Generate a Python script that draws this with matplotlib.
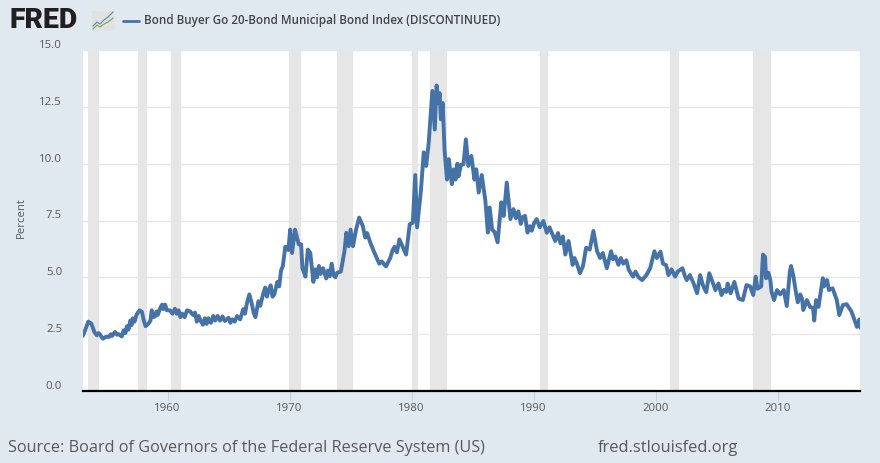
import matplotlib
matplotlib.use("Agg")
import matplotlib.pyplot as plt
from matplotlib.lines import Line2D
from matplotlib.patches import FancyBboxPatch
from matplotlib.transforms import ScaledTranslation

plt.rcParams['font.family'] = ['Open Sans', 'DejaVu Sans']

title = "Bond Buyer Go 20-Bond Municipal Bond Index (DISCONTINUED)"
source = "Source: Board of Governors of the Federal Reserve System (US)"
site = "fred.stlouisfed.org"
ylabel = "Percent"
x_ticks = [1960, 1970, 1980, 1990, 2000, 2010]
y_ticks = [0.0, 2.5, 5.0, 7.5, 10.0, 12.5, 15.0]
recession_start = [1953.5, 1957.6, 1960.25, 1969.95, 1973.9, 1980.0, 1981.5, 1990.55, 2001.2, 2007.95]
recession_end = [1954.4, 1958.3, 1961.1, 1970.9, 1975.2, 1980.5, 1982.9, 1991.2, 2001.9, 2009.45]

years_1950s = [1953.07, 1953.25, 1953.5, 1953.75, 1954, 1954.2, 1954.35, 1954.5, 1954.7, 1954.95, 1955.2, 1955.35, 1955.45, 1955.7, 1955.85, 1956, 1956.25, 1956.4, 1956.55, 1956.67, 1956.8, 1956.95, 1957.05, 1957.15, 1957.3, 1957.45, 1957.7, 1957.9, 1958.05, 1958.2, 1958.45, 1958.6, 1958.7, 1958.85, 1959, 1959.1, 1959.2, 1959.4, 1959.55, 1959.65, 1959.8, 1959.95]
values_1950s = [2.45, 2.68, 3.05, 2.97, 2.6, 2.45, 2.55, 2.45, 2.3, 2.38, 2.38, 2.5, 2.42, 2.6, 2.48, 2.5, 2.4, 2.67, 2.55, 2.85, 2.7, 3.1, 2.9, 3.2, 3.05, 3.35, 3.55, 3.48, 3.1, 2.85, 2.97, 3.1, 3.55, 3.25, 3.3, 3.5, 3.35, 3.65, 3.8, 3.6, 3.8, 3.55]

years_1960s = [1960.2, 1960.4, 1960.6, 1960.75, 1960.9, 1961.05, 1961.2, 1961.4, 1961.6, 1961.85, 1962.1, 1962.25, 1962.4, 1962.55, 1962.7, 1962.9, 1963.05, 1963.2, 1963.35, 1963.55, 1963.75, 1963.9, 1964.1, 1964.3, 1964.5, 1964.7, 1965, 1965.15, 1965.3, 1965.5, 1965.7, 1965.95, 1966.2, 1966.35, 1966.5, 1966.7, 1966.9, 1967.05, 1967.2, 1967.45, 1967.6, 1967.85, 1968, 1968.15, 1968.3, 1968.45, 1968.6, 1968.75, 1969, 1969.15, 1969.3, 1969.45, 1969.65, 1969.9]
values_1960s = [3.55, 3.4, 3.62, 3.4, 3.55, 3.25, 3.4, 3.25, 3.55, 3.5, 3.34, 3.45, 3.05, 3.3, 3.1, 2.92, 3.2, 2.95, 3.2, 3.0, 3.3, 3.1, 3.3, 3.1, 3.28, 3.08, 3.22, 3.0, 3.15, 3.05, 3.3, 3.15, 3.6, 3.4, 3.85, 4.25, 3.85, 3.45, 3.25, 3.95, 3.75, 4.3, 4.55, 4.15, 4.45, 4.65, 4.15, 4.25, 4.8, 4.6, 5.3, 5.5, 6.35, 6.2]

years_1970s = [1970.05, 1970.2, 1970.45, 1970.75, 1970.95, 1971.05, 1971.3, 1971.5, 1971.7, 1971.95, 1972.1, 1972.25, 1972.4, 1972.55, 1972.75, 1973, 1973.15, 1973.3, 1973.45, 1973.6, 1973.75, 1973.9, 1974.2, 1974.5, 1974.65, 1974.85, 1975, 1975.2, 1975.45, 1975.7, 1976, 1976.2, 1976.35, 1976.6, 1976.9, 1977.15, 1977.35, 1977.55, 1977.9, 1978.25, 1978.45, 1978.6, 1978.8, 1979, 1979.3, 1979.55, 1979.85]
values_1970s = [7.1, 6.07, 7.1, 6.45, 6.45, 5.4, 5.03, 6.22, 6.07, 4.8, 5.35, 5.0, 5.5, 5.15, 5.4, 4.95, 5.3, 5.05, 5.6, 5.1, 5.0, 5.2, 5.25, 6.15, 6.96, 6.37, 7.1, 6.37, 7.1, 7.63, 7.26, 6.75, 6.95, 6.55, 6.15, 5.85, 5.6, 5.7, 5.48, 5.85, 6.2, 6.34, 6.1, 6.67, 6.3, 6.0, 7.34]

years_1980s = [1980.1, 1980.3, 1980.45, 1980.75, 1981, 1981.2, 1981.4, 1981.7, 1981.9, 1982.05, 1982.2, 1982.3, 1982.4, 1982.55, 1982.7, 1982.9, 1983.05, 1983.3, 1983.45, 1983.6, 1983.75, 1983.85, 1984.05, 1984.25, 1984.45, 1984.65, 1984.9, 1985.15, 1985.3, 1985.5, 1985.75, 1986.05, 1986.25, 1986.4, 1986.6, 1986.8, 1987.05, 1987.35, 1987.55, 1987.8, 1988.1, 1988.35, 1988.55, 1988.75, 1988.95, 1989.1, 1989.3, 1989.5, 1989.7, 1989.85, 1990.05]
values_1980s = [7.4, 9.5, 7.2, 8.73, 10.5, 9.9, 10.9, 13.2, 11.5, 13.44, 12.67, 13.1, 11.95, 12.67, 10.6, 9.3, 10.2, 9.1, 9.75, 9.3, 10.0, 9.45, 9.95, 9.97, 11.07, 9.9, 10.34, 9.3, 9.75, 8.73, 9.5, 8.36, 6.97, 8.07, 7.1, 7.0, 6.54, 8.3, 7.7, 9.17, 7.56, 8.0, 7.6, 7.9, 7.35, 7.65, 7.7, 6.97, 7.25, 7.05, 7.4]

years_1990s = [1990.25, 1990.5, 1990.8, 1991.08, 1991.3, 1991.5, 1991.77, 1992, 1992.2, 1992.4, 1992.6, 1992.86, 1993.2, 1993.35, 1993.55, 1993.8, 1994.05, 1994.3, 1994.6, 1994.9, 1995.2, 1995.45, 1995.67, 1996, 1996.35, 1996.5, 1996.7, 1996.95, 1997.15, 1997.35, 1997.6, 1997.8, 1998.15, 1998.35, 1998.6, 1998.9, 1999.25, 1999.55, 1999.9]
values_1990s = [7.56, 7.2, 7.48, 6.96, 7.2, 6.95, 6.6, 6.95, 6.5, 6.8, 6.0, 6.6, 5.55, 5.85, 5.6, 5.18, 5.5, 6.3, 6.22, 7.04, 6.15, 5.85, 6.07, 5.4, 6.15, 5.8, 5.92, 5.55, 5.85, 5.6, 5.75, 5.33, 5.03, 5.25, 5.0, 4.88, 5.1, 5.4, 6.15]

years_2000s = [2000.1, 2000.4, 2000.6, 2000.86, 2001.05, 2001.3, 2001.6, 2001.8, 2002.2, 2002.4, 2002.55, 2002.8, 2003.1, 2003.4, 2003.65, 2003.85, 2004, 2004.15, 2004.4, 2004.6, 2004.9, 2005.15, 2005.4, 2005.6, 2005.8, 2005.9, 2006.15, 2006.45, 2006.8, 2007.15, 2007.45, 2007.75, 2008, 2008.2, 2008.35, 2008.65, 2008.8, 2008.97, 2009.05, 2009.25, 2009.4, 2009.5, 2009.7, 2009.95, 2010.2]
values_2000s = [5.85, 6.13, 5.6, 5.54, 5.1, 5.35, 5.03, 5.25, 5.4, 5.05, 4.88, 5.1, 4.75, 4.3, 5.1, 4.7, 4.5, 4.35, 5.18, 4.88, 4.44, 4.73, 4.22, 4.45, 4.36, 4.73, 4.3, 4.8, 4.07, 4.0, 4.66, 4.6, 4.22, 5.03, 4.5, 4.6, 6.0, 5.9, 4.96, 5.2, 4.88, 4.37, 4.0, 4.44, 4.25]

years_2010s = [2010.5, 2010.75, 2011, 2011.1, 2011.3, 2011.45, 2011.65, 2011.85, 2012, 2012.1, 2012.4, 2012.65, 2012.9, 2013, 2013.15, 2013.35, 2013.7, 2013.8, 2014.05, 2014.2, 2014.5, 2014.85, 2015.05, 2015.35, 2015.65, 2016.05, 2016.5, 2016.7, 2016.8]
values_2010s = [4.44, 3.74, 5.25, 5.5, 5.03, 4.5, 3.9, 4.25, 4.06, 3.56, 4.0, 3.7, 3.66, 3.1, 4.0, 3.7, 4.96, 4.6, 4.88, 4.44, 4.52, 4.0, 3.34, 3.78, 3.82, 3.5, 2.82, 3.15, 2.8]

years = years_1950s + years_1960s + years_1970s + years_1980s + years_1990s + years_2000s + years_2010s
values = values_1950s + values_1960s + values_1970s + values_1980s + values_1990s + values_2000s + values_2010s

BG = '#e1e9f0'
TXT = '#595959'
W, H = 880, 463
fig = plt.figure(figsize=(W / 100, H / 100), dpi=100, facecolor=BG)
ax = fig.add_axes([83 / W, (H - 391) / H, (860 - 83) / W, (391 - 50) / H], facecolor='white')
ax.set_xlim(1953.07, 2016.75)
ax.set_ylim(0, 15)

for s, e in zip(recession_start, recession_end):
    ax.axvspan(s, e, color='#e6e6e6', lw=0, zorder=1)
ax.grid(axis='y', color='#e6e6e6', lw=1, zorder=0)
ax.set_axisbelow(True)
ax.plot(years, values, color='#4572a7', lw=2.8, solid_joinstyle='round', zorder=3)

for side in ['top', 'right', 'left']:
    ax.spines[side].set_visible(False)
ax.spines['bottom'].set_color('black')
ax.spines['bottom'].set_linewidth(1.6)
ax.spines['bottom'].set_zorder(5)

ax.set_xticks(x_ticks)
ax.set_xticklabels([str(t) for t in x_ticks], fontsize=8.2, color=TXT)
ax.tick_params(axis='x', length=7, width=0.7, color='#c0d0e0', pad=1.5)
ax.set_yticks(y_ticks)
ax.set_yticklabels([f'{t:.1f}' for t in y_ticks], fontsize=8.2, color=TXT)
ax.tick_params(axis='y', length=0, pad=15)
shift = ScaledTranslation(0, 0.06, fig.dpi_scale_trans)
for lab in ax.get_yticklabels():
    lab.set_transform(lab.get_transform() + shift)

fig.text(21 / W, 1 - 218 / H, ylabel, rotation=90, fontsize=8.2, color=TXT, ha='center', va='center')
fig.text(144 / W, 1 - 20.5 / H, title, fontsize=8.37, fontweight='semibold', color='#444444', va='center', ha='left')
fig.text(8 / W, 1 - 448 / H, source, fontsize=11.72, color=TXT, va='center', ha='left')
fig.text(598 / W, 1 - 448 / H, site, fontsize=11.85, color=TXT, va='center', ha='left')
fig.text(9 / W, 1 - 20.5 / H, "FRED", fontsize=20.5, fontweight='black', family=['Roboto', 'DejaVu Sans'], color='#231f20', va='center', ha='left')

def pxline(xs, ys, **kw):
    fig.add_artist(Line2D([x / W for x in xs], [1 - y / H for y in ys], transform=fig.transFigure, **kw))

pxline([123, 139], [20.5, 20.5], color='#4572a7', lw=2.0, solid_capstyle='round')
fig.add_artist(FancyBboxPatch((92 / W, 1 - 31 / H), 22 / W, 20 / H, transform=fig.transFigure,
                              boxstyle='square,pad=0', fc='#dfe2df', ec='none'))
pxline([93, 97, 100, 104, 108, 113], [26, 22, 24, 20, 17, 12], color='#5f86b3', lw=0.8)
pxline([93, 97, 100, 104, 108, 113], [29, 25, 27, 24, 22, 18], color='#7da35c', lw=0.8)

fig.savefig('out.png', dpi=100, facecolor=BG)
